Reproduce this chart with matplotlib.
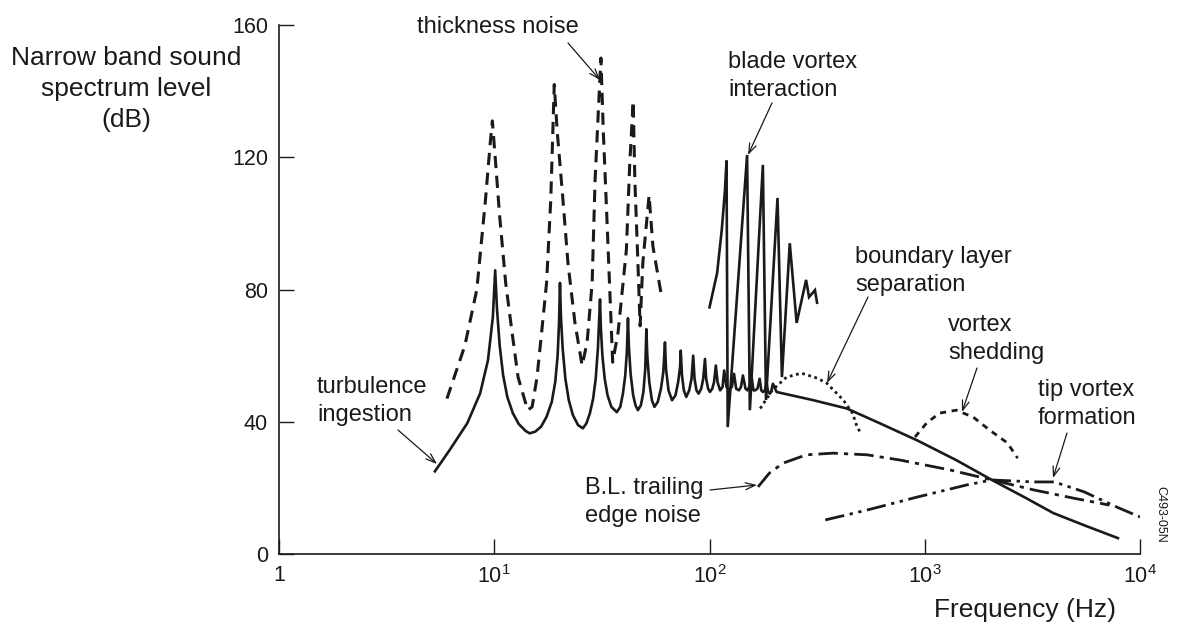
import numpy as np
import matplotlib.pyplot as plt

plt.rcParams['font.family'] = ['Liberation Sans', 'DejaVu Sans']
plt.rcParams['mathtext.fontset'] = 'custom'
plt.rcParams['mathtext.rm'] = 'Liberation Sans'

INK = '#1a1a1a'

# ---- data (frequency in Hz, level in dB) ----
# rotor harmonics + broadband curve (solid)
rotor_f = [5.3, 6.2, 7.5, 8.6, 9.35, 9.85, 10.1,
           10.3, 10.6, 11.0, 11.5, 12.2, 13.0, 14.0, 14.6, 15.5, 16.5, 17.5,
           18.5, 19.2, 19.7, 20.0, 20.2,
           20.4, 20.8, 21.4, 22.2, 23.2, 24.5, 25.8, 26.8, 27.8, 28.8, 29.6,
           30.3, 31.0,
           31.3, 31.8, 32.6, 33.6, 35.0, 37.1, 38.5, 39.6, 40.6, 41.3, 41.8,
           42.2, 43.0, 44.2, 45.3, 46.5, 48.0, 49.3, 50.3, 50.9,
           51.4, 52.5, 54.0, 55.5, 57.5, 59.5, 61.0, 62.1,
           62.8, 64.5, 67.0, 69.5, 71.5, 73.0, 73.5,
           74.5, 76.0, 78.0, 80.5, 82.5, 84.0,
           85.2, 87.0, 89.0, 91.5, 93.5, 95.3,
           96.5, 98.5, 100.5, 103, 105, 107,
           109, 112, 115, 117, 120, 123, 127, 130, 133, 137, 140, 143, 147,
           150, 153, 157, 160, 163, 167, 171, 174, 177, 181, 184, 187, 191,
           194, 197, 205, 300, 435, 620, 920, 1400, 2050, 2900, 3950, 5600,
           7900]
rotor_db = [25, 31.4, 39.6, 48.6, 58.6, 71.6, 85.8,
            74, 63, 54, 47.5, 42.6, 39.3, 37.2, 36.5, 37, 38.5, 41.5,
            46, 52, 60, 70, 82,
            72, 62, 53, 46.5, 42, 39, 38, 39.5, 42.5, 47, 53,
            62, 77,
            68, 60, 53, 48, 44.5, 42.9, 44.5, 48.5, 54, 61, 71.3,
            63, 54.5, 48, 45, 43.5, 45, 49, 56, 68,
            60, 52, 46.5, 44.5, 46, 50, 55, 64,
            56, 49.5, 46.5, 48, 52, 56.5, 61.5,
            54, 49.5, 47.5, 49.5, 53, 60,
            53, 49.5, 48.5, 50, 53, 59,
            53, 50, 49, 50, 52, 57,
            52, 49.5, 50.5, 55.5, 50.5, 49.5, 50.5, 54.5, 50, 49.5, 50.5, 54,
            50, 49.5, 50.5, 53.5, 49.5, 49.5, 50, 53, 49.5, 49, 49.5, 52,
            49, 48.5, 49.5, 51.5, 49, 46.6, 44, 39.5, 34.4, 28.4, 22.4, 17.2,
            12.4, 8.5, 4.8]

# thickness noise (dashed)
thick_f = [6.03, 7.3, 8.3, 9.1, 9.6, 9.8, 10.1, 10.6, 11.3, 12.1, 12.9, 14.3,
           15.0, 15.8, 16.6, 17.5, 18.3, 19.0, 19.6, 20.8, 22.0, 23.7, 25.6,
           27.0, 28.5, 29.4, 30.4, 31.3, 32.1, 33.3, 34.5, 35.5,
           37.6, 41.1, 42.6, 44.2, 45.0, 46.5, 47.6, 49.0, 52.4, 54.6, 60.0]
thick_db = [47, 63, 80, 107, 125, 131, 120, 102, 82, 67, 53.5, 43.5,
            44.5, 53.5, 67, 82, 107, 142, 128, 108, 88, 70, 57,
            64, 82, 113, 133, 150, 128, 103, 78, 58,
            67, 92, 118, 137, 113, 88, 69, 88, 108.5, 93, 77.6]

# blade vortex interaction (solid sawtooth)
bvi_f = [100, 108.5, 114, 118, 120, 121.5, 149.5, 154, 177, 183, 207, 217,
         236, 254, 281, 290, 309, 316]
bvi_db = [74.6, 85, 98, 110, 119, 38.4, 120.7, 43.5, 117.7, 46.6, 107.7, 53.5,
          94, 69.9, 82.9, 77.7, 79.8, 76]

# boundary layer separation (dotted)
bls_f = [172, 196, 228, 267, 316, 350, 418, 462, 485, 500]
bls_db = [44, 49.6, 53.5, 54.7, 53.2, 51.7, 46.6, 42.6, 38.4, 37]

# vortex shedding (short dashes)
vs_f = [901, 1020, 1170, 1400, 1680, 2000, 2420, 2700]
vs_db = [35.4, 39.6, 42.6, 43.5, 41.4, 37.5, 33.6, 29]

# B.L. trailing edge noise (dash-dot)
te_f = [168, 190, 220, 282, 375, 540, 770, 1315, 2050, 3200, 4900, 7200]
te_db = [20.3, 24.5, 27.5, 30, 30.5, 30, 28.4, 25.4, 22.4, 19.4, 16.9, 14.8]

# tip vortex formation (dash-dot-dot)
tv_f = [345, 540, 920, 1570, 2050, 3200, 4000, 5500, 7800, 10000]
tv_db = [10.3, 13.3, 17.2, 20.9, 22.4, 21.8, 21.8, 18.8, 14.2, 11.2]

x_ticks = [1, 10, 100, 1000, 10000]
x_labels = ['1', r'$\mathregular{10^1}$', r'$\mathregular{10^2}$',
            r'$\mathregular{10^3}$', r'$\mathregular{10^4}$']
y_ticks = [0, 40, 80, 120, 160]

# ---- figure ----
fig = plt.figure(figsize=(11.78, 6.32), dpi=100)
ax = fig.add_axes([279 / 1178, 78 / 632, 861 / 1178, 529 / 632])
ax.set_xscale('log')
ax.set_xlim(1, 1e4)
ax.set_ylim(0, 160)

lw = 1.9
ax.plot(rotor_f, rotor_db, color=INK, lw=lw)
ax.plot(bvi_f, bvi_db, color=INK, lw=lw, solid_joinstyle='miter')
ax.plot(thick_f, thick_db, color=INK, lw=2.2, dashes=(4, 2.5), dash_capstyle='butt')
ax.plot(bls_f, bls_db, color=INK, lw=2.0, dashes=(1, 1.3))
ax.plot(vs_f, vs_db, color=INK, lw=2.0, dashes=(2.2, 2))
ax.plot(te_f, te_db, color=INK, lw=2.0, dashes=(7, 2.2, 1.5, 2.2))
ax.plot(tv_f, tv_db, color=INK, lw=2.0, dashes=(7, 2, 1.2, 2, 1.2, 2))

for s in ['top', 'right']:
    ax.spines[s].set_visible(False)
for s in ['left', 'bottom']:
    ax.spines[s].set_linewidth(1.2)
    ax.spines[s].set_color(INK)

ax.set_xticks(x_ticks, x_labels)
ax.xaxis.set_minor_locator(plt.NullLocator())
ax.set_yticks(y_ticks)
ax.tick_params(direction='in', length=11, width=1.0, colors=INK,
               labelsize=15.5, pad=8)


def px(x, y):
    # pixel position in the reference -> data coordinates
    return 10 ** ((x - 279) / 215.25), (554 - y) / 3.306


tk = dict(fontsize=17, color=INK, linespacing=1.3)
arrow = dict(arrowstyle='->,head_length=0.7,head_width=0.25', lw=0.9,
             color=INK, shrinkA=0, shrinkB=0)

notes = [
    ('thickness noise', (417, 27), (568, 43), (600, 80)),
    ('blade vortex\ninteraction', (728, 76), (772, 103), (748, 155)),
    ('boundary layer\nseparation', (855, 271), (868, 297), (827, 383)),
    ('vortex\nshedding', (948, 339), (977, 368), (962, 412)),
    ('tip vortex\nformation', (1038, 404), (1067, 433), (1053, 478)),
    ('turbulence\ningestion', (317, 401), (398, 430), (437, 464)),
    ('B.L. trailing\nedge noise', (585, 502), (710, 490), (757, 485)),
]
for text, tpos, start, tip in notes:
    ax.text(*px(*tpos), text, ha='left', va='center', **tk)
    ax.annotate('', xy=px(*tip), xytext=px(*start), arrowprops=arrow)

fig.text(1025 / 1178, 1 - 610 / 632, 'Frequency (Hz)', ha='center',
         va='center', fontsize=19, color=INK)
fig.text(126 / 1178, 1 - 89 / 632, 'Narrow band sound\nspectrum level\n(dB)',
         ha='center', va='center', fontsize=19, color=INK, linespacing=1.38)
fig.text(1160 / 1178, 1 - 514 / 632, 'C493-05N', rotation=270, ha='center',
         va='center', fontsize=9, color=INK)

fig.savefig('out.png', dpi=100)
